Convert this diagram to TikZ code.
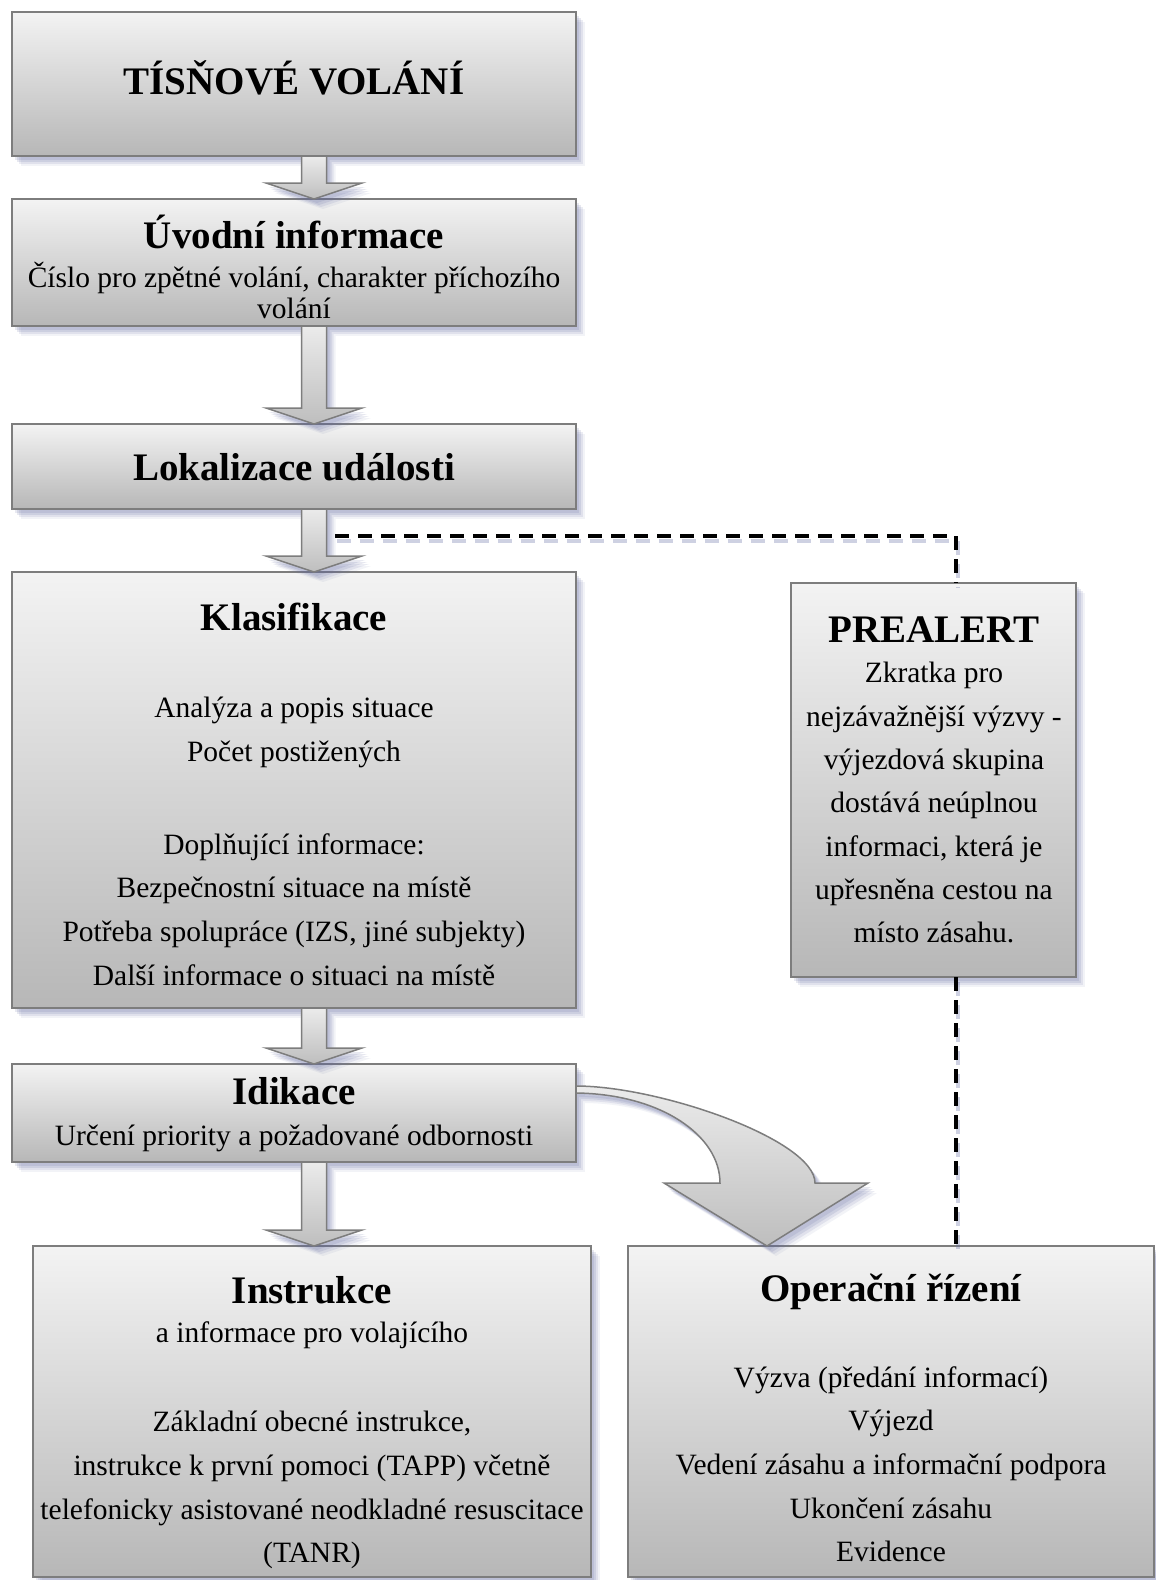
\documentclass[tikz,border=0pt]{standalone}
\usepackage{fontspec}
\setmainfont{Liberation Serif}
\usetikzlibrary{calc}
\definecolor{shcol}{RGB}{95,103,160}
\definecolor{btop}{RGB}{243,243,243}
\definecolor{bbot}{RGB}{183,183,183}
\definecolor{atop}{RGB}{235,235,235}
\definecolor{abot}{RGB}{190,190,190}
\definecolor{bord}{RGB}{125,125,125}
\tikzset{
 shd/.style={
  preaction={fill=shcol, fill opacity=0.14, transform canvas={xshift=3pt,yshift=-4pt}},
  preaction={fill=shcol, fill opacity=0.15, transform canvas={xshift=5pt,yshift=-6pt}},
  preaction={fill=shcol, fill opacity=0.12, transform canvas={xshift=7pt,yshift=-8pt}},
  preaction={fill=shcol, fill opacity=0.08, transform canvas={xshift=9pt,yshift=-10pt}}},
 box/.style={shd, draw=bord, line width=1.8pt, top color=btop, bottom color=bbot, inner sep=0pt, outer sep=0pt},
 hd/.style={anchor=base, inner sep=0pt, font=\fontsize{39}{45}\selectfont\bfseries},
 tx/.style={anchor=base, inner sep=0pt, font=\fontsize{29.5}{35}\selectfont},
 blk/.style={shd, draw=bord, line width=1.5pt, top color=atop, bottom color=abot, line join=miter},
 dsh/.style={line width=4pt, dash pattern=on 14pt off 9pt,
  preaction={draw=shcol, draw opacity=0.3, line width=4pt, dash pattern=on 14pt off 9pt, transform canvas={xshift=2pt,yshift=-5pt}}}
}
\newcommand{\barrow}[2]{%
 \draw[blk] let \p1=#1, \p2=#2 in (\x1-12.5pt,\y1) -- (\x1+12.5pt,\y1) -- (\x2+12.5pt,\y2+16pt) -- (\x2+48pt,\y2+16pt) -- (\x2,\y2) -- (\x2-48pt,\y2+16pt) -- (\x2-12.5pt,\y2+16pt) -- cycle;}
\begin{document}
\begin{tikzpicture}[x=1pt,y=-1pt]
\fill[white] (0,0) rectangle (1156,1580);
\useasboundingbox (0,0) rectangle (1156,1580);

% boxes
\node[box, minimum width=564pt, minimum height=144pt] (b1) at (294,84) {};
\node[box, minimum width=564pt, minimum height=127pt] (b2) at (294,262.5) {};
\node[box, minimum width=564pt, minimum height=85pt] (b3) at (294,466.5) {};
\node[box, minimum width=564pt, minimum height=436pt] (kl) at (294,790) {};
\node[box, minimum width=285pt, minimum height=394pt] (pre) at (933.5,780) {};
\node[box, minimum width=564pt, minimum height=98pt] (idk) at (294,1113) {};
\node[box, minimum width=558pt, minimum height=331pt] (ins) at (312,1411.5) {};
\node[box, minimum width=526pt, minimum height=331pt] (op) at (891,1411.5) {};

% dashed connector
\coordinate (dA) at ($(b3.south)+(41,27)$);
\coordinate (dB) at (956,536);
\draw[dsh] (dA) -- (dB) -- (dB |- pre.north);
\draw[dsh] (pre.south -| dB) -- (dB |- op.north);

% block arrows
\barrow{($(b1.south)+(20,0)$)}{($(b2.north)+(20,0)$)}
\barrow{($(b2.south)+(20,0)$)}{($(b3.north)+(20,0)$)}
\barrow{($(b3.south)+(20,0)$)}{($(kl.north)+(20,0)$)}
\barrow{($(kl.south)+(20,0)$)}{($(idk.north)+(20,0)$)}
\barrow{($(idk.south)+(20,0)$)}{($(ins.north)+(2,0)$)}

% curved arrow
\coordinate (cs1) at ($(idk.north east)+(0,22)$);
\coordinate (cs2) at ($(idk.north east)+(0,29)$);
\coordinate (ctip) at ($(op.north)+(-124,0)$);
\draw[blk] (cs1) .. controls (660,1086) and (815,1140) .. (815,1183) -- (868,1183) -- (ctip) -- (664,1183) -- (720,1183) .. controls (720,1135) and (660,1094) .. (cs2) -- cycle;

% texts
\node[hd] (t1) at (294,94) {TÍSŇOVÉ VOLÁNÍ};

\node[hd] (t2a) at (294,248) {Úvodní informace};
\node[tx] (t2b) at (294,287) {Číslo pro zpětné volání, charakter příchozího};
\node[tx] (t2c) at (294,318) {volání};

\node[hd] (t3) at (294,480) {Lokalizace události};

\node[hd] (t4) at (294,630) {Klasifikace};
\node[tx] (t4a) at (294,717) {Analýza a popis situace};
\node[tx] (t4b) at (294,761) {Počet postižených};
\node[tx] (t4c) at (294,854) {Doplňující informace:};
\node[tx] (t4d) at (294,897) {Bezpečnostní situace na místě};
\node[tx] (t4e) at (294,941) {Potřeba spolupráce (IZS, jiné subjekty)};
\node[tx] (t4f) at (294,985) {Další informace o situaci na místě};

\node[hd] (t5) at (934,642) {PREALERT};
\node[tx] (t5a) at (934,682) {Zkratka pro};
\node[tx] (t5b) at (934,726) {nejzávažnější výzvy -};
\node[tx] (t5c) at (934,769) {výjezdová skupina};
\node[tx] (t5d) at (934,812) {dostává neúplnou};
\node[tx] (t5e) at (934,856) {informaci, která je};
\node[tx] (t5f) at (934,899) {upřesněna cestou na};
\node[tx] (t5g) at (934,942) {místo zásahu.};

\node[hd] (t6) at (294,1104) {Idikace};
\node[tx] (t6a) at (294,1145) {Určení priority a požadované odbornosti};

\node[hd] (t7) at (312,1303) {Instrukce};
\node[tx] (t7a) at (312,1342) {a informace pro volajícího};
\node[tx] (t7b) at (312,1431) {Základní obecné instrukce,};
\node[tx] (t7c) at (312,1475) {instrukce k první pomoci (TAPP) včetně};
\node[tx] (t7d) at (312,1519) {telefonicky asistované neodkladné resuscitace};
\node[tx] (t7e) at (312,1562) {(TANR)};

\node[hd] (t8) at (891,1301) {Operační řízení};
\node[tx] (t8a) at (891,1387) {Výzva (předání informací)};
\node[tx] (t8b) at (891,1430) {Výjezd};
\node[tx] (t8c) at (891,1474) {Vedení zásahu a informační podpora};
\node[tx] (t8d) at (891,1518) {Ukončení zásahu};
\node[tx] (t8e) at (891,1561) {Evidence};
\end{tikzpicture}
\end{document}
